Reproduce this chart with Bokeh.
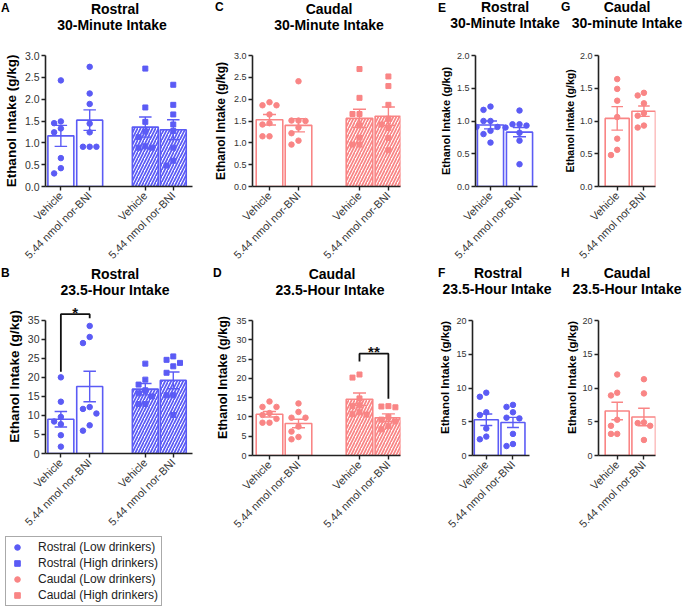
import math
from bokeh.plotting import figure
from bokeh.layouts import row, column
from bokeh.models import (FixedTicker, PrintfTickFormatter, CustomJSTickFormatter,
                          Range1d, Legend, LegendItem, Div)
from bokeh.core.properties import value
from bokeh.embed import file_html
from bokeh.resources import INLINE

BLUE = "#5b5bf5"
PINK = "#f98585"
FONT = "Liberation Sans"

# ---------------- data ----------------
X_LABELS = ["Vehicle", "5.44 nmol nor-BNI"]
LEGEND_LABELS = ["Rostral (Low drinkers)", "Rostral (High drinkers)",
                 "Caudal (Low drinkers)", "Caudal (High drinkers)"]

# A: Rostral 30-minute (low veh, low nor, high veh, high nor)
A_points = [[2.43, 1.49, 1.45, 1.33, 1.24, 0.65, 0.42, 0.30],
            [2.74, 2.13, 1.89, 1.44, 1.24, 0.91, 0.91, 0.91],
            [2.70, 1.81, 1.48, 1.26, 1.13, 0.92, 0.89, 0.89],
            [2.33, 1.87, 1.65, 1.42, 1.27, 0.89, 0.59, 0.48]]
A_mean = [1.16, 1.52, 1.36, 1.30]
A_sem = [0.24, 0.235, 0.23, 0.23]

# B: Rostral 23.5-hour
B_points = [[20.0, 13.6, 9.6, 8.4, 7.7, 4.8, 1.8],
            [33.5, 30.6, 29.0, 12.2, 11.7, 10.5, 7.4, 6.0],
            [23.6, 19.4, 18.1, 16.6, 15.8, 15.0, 13.0, 13.0],
            [25.5, 24.6, 23.8, 22.9, 21.2, 15.3, 15.3, 10.1]]
B_mean = [9.0, 17.6, 16.9, 19.2]
B_sem = [2.05, 4.0, 1.5, 2.2]

# C: Caudal 30-minute
C_points = [[1.93, 1.86, 1.86, 1.65, 1.45, 1.42, 1.15, 1.15],
            [2.41, 1.51, 1.51, 1.50, 1.35, 1.22, 1.05, 0.96],
            [2.69, 2.03, 1.66, 1.66, 1.40, 1.12, 0.96, 0.96],
            [2.52, 2.30, 1.87, 1.55, 1.42, 1.34, 1.11, 0.83]]
C_mean = [1.53, 1.40, 1.56, 1.61]
C_sem = [0.12, 0.15, 0.21, 0.21]

# D: Caudal 23.5-hour
D_points = [[14.0, 12.6, 12.6, 11.0, 10.5, 9.5, 8.5, 8.5],
            [13.5, 11.3, 9.8, 9.8, 7.5, 6.2, 4.8, 4.2],
            [21.0, 20.2, 14.8, 13.0, 12.8, 11.2, 10.7, 10.6],
            [12.8, 12.5, 12.7, 10.0, 9.3, 8.8, 7.6, 6.8]]
D_mean = [10.7, 8.3, 14.6, 9.8]
D_sem = [0.7, 1.1, 1.6, 1.0]

# E: Rostral 30-minute
E_points = [[1.22, 1.17, 1.00, 1.00, 0.91, 0.91, 0.85, 0.80, 0.67],
            [1.16, 0.95, 0.95, 0.93, 0.90, 0.82, 0.70, 0.34]]
E_mean = [0.94, 0.83]
E_sem = [0.06, 0.07]

# F: Rostral 23.5-hour
F_points = [[9.3, 8.7, 6.4, 6.0, 4.0, 2.8, 2.4],
            [7.5, 7.2, 6.4, 5.6, 5.5, 3.2, 1.7, 1.4]]
F_mean = [5.3, 4.9]
F_sem = [0.85, 0.75]

# G: Caudal 30-minute
G_points = [[1.64, 1.49, 1.31, 1.06, 0.73, 0.56, 0.48],
            [1.43, 1.39, 1.27, 1.12, 1.08, 0.93, 0.90]]
G_mean = [1.04, 1.15]
G_sem = [0.18, 0.08]

# H: Caudal 23.5-hour
H_points = [[12.0, 9.3, 8.9, 5.3, 4.4, 3.2, 3.2],
            [11.3, 9.2, 4.9, 4.8, 4.4, 2.3]]
H_mean = [6.6, 5.7]
H_sem = [1.3, 1.3]

# significance brackets: (bar i, bar j, left-leg bottom, top, right-leg bottom, label)
B_sig = (0, 1, 21.5, 36.6, 35.5, "*")
D_sig = (2, 3, 24.4, 26.4, 14.7, "**")


def swarm(vals, center, ypx, xpx, d=7.0):
    out = [0.0] * len(vals)
    placed = []
    order = sorted(range(len(vals)), key=lambda i: -vals[i])
    for i in order:
        v = vals[i]
        ox = 0.0
        for k in [0, -1, 1, -2, 2, -3, 3]:
            ox = k * d
            if all((ox - px) ** 2 + ((v - pv) * ypx) ** 2 >= (d * 0.95) ** 2 for px, pv in placed):
                break
        placed.append((ox, v))
        out[i] = center + ox / xpx
    return out


def strip(w, h, texts):
    parts = ['<div style="position:relative;width:%dpx;height:%dpx;">' % (w, h)]
    for (txt, x, y, size, align) in texts:
        tx = "-50%" if align == "center" else "0"
        parts.append(
            '<span style="position:absolute;left:%spx;top:%spx;transform:translate(%s,-50%%);'
            "font-family:'Liberation Sans',Arial,sans-serif;font-weight:bold;font-size:%s;"
            'color:#000;white-space:nowrap;line-height:1;">%s</span>' % (x, y, tx, size, txt))
    parts.append("</div>")
    return Div(text="".join(parts), width=w, height=h, margin=0)


def panel(s):
    w, h = s["w"], s["h"]
    left, right, top, bottom = s["left"], s["right"], s["top"], s["bottom"]
    fh = h - top - bottom
    p = figure(width=w, height=h, x_range=Range1d(*s["xr"]), y_range=Range1d(0, s["yend"]),
               toolbar_location=None, output_backend="svg",
               min_border_left=left, min_border_right=right,
               min_border_top=top, min_border_bottom=bottom)
    p.outline_line_color = None
    p.xgrid.visible = False
    p.ygrid.visible = False
    p.background_fill_color = "white"
    p.border_fill_color = "white"

    color = s["color"]
    centers = s["centers"]
    n = len(centers)
    hatched = [i >= 2 for i in range(n)]
    ypx = fh / s["yend"]
    xpx = s["unit"]

    plain_i = [i for i in range(n) if not hatched[i]]
    hat_i = [i for i in range(n) if hatched[i]]
    means, sems = s["mean"], s["sem"]
    p.vbar(x=[centers[i] for i in plain_i], top=[means[i] for i in plain_i], width=0.9,
           fill_color="white", line_color=color, line_width=1.6)
    if hat_i:
        p.vbar(x=[centers[i] for i in hat_i], top=[means[i] for i in hat_i], width=0.9,
               fill_color="white", line_color=color, line_width=1.6,
               hatch_pattern="/", hatch_color=color, hatch_weight=1.7, hatch_scale=6)
    lo = [m - e for m, e in zip(means, sems)]
    hi = [m + e for m, e in zip(means, sems)]
    cw = 6.5 / xpx
    p.segment(x0=centers, y0=lo, x1=centers, y1=hi, line_color=color, line_width=1.4)
    p.segment(x0=[c - cw for c in centers], y0=hi, x1=[c + cw for c in centers], y1=hi,
              line_color=color, line_width=1.4)
    p.segment(x0=[c - cw for c in centers], y0=lo, x1=[c + cw for c in centers], y1=lo,
              line_color=color, line_width=1.4)

    for i in range(n):
        vals = s["points"][i]
        xs = swarm(vals, centers[i], ypx, xpx)
        p.scatter(x=xs, y=vals, marker="square" if hatched[i] else "circle",
                  size=5.5 if not hatched[i] else 5, color=color)

    if s.get("sig"):
        i, j, yl, yt, yr, lab = s["sig"]
        p.line(x=[centers[i], centers[i], centers[j], centers[j]], y=[yl, yt, yt, yr],
               line_color="#111111", line_width=1.8)
        p.text(x=[(centers[i] + centers[j]) / 2], y=[yt + 2.0 / ypx],
               text=[lab], text_font=value(FONT), text_font_size="15px",
               text_font_style="bold", text_align="center", text_baseline="alphabetic",
               text_color="#111111")

    ya = p.yaxis[0]
    ya.ticker = FixedTicker(ticks=s["yticks"])
    ya.formatter = PrintfTickFormatter(format=s["yfmt"])
    ya.bounds = (0, s["ymax"])
    ya.minor_tick_line_color = None
    ya.major_tick_out = 4
    ya.major_tick_in = 0
    ya.axis_line_width = 1.6
    ya.axis_line_color = "#222222"
    ya.major_tick_line_color = "#222222"
    ya.major_tick_line_width = 1.4
    ya.major_label_text_font = FONT
    ya.major_label_text_font_size = s["ytick_size"]
    ya.major_label_text_color = "#333333"
    ya.major_label_standoff = 2
    ya.axis_label = s["ylabel"]
    ya.axis_label_text_font = FONT
    ya.axis_label_text_font_style = "bold"
    ya.axis_label_text_font_size = s["ylabel_size"]
    ya.axis_label_text_color = "#000000"
    ya.axis_label_standoff = s.get("lab_standoff", 3)

    xa = p.xaxis[0]
    xa.ticker = FixedTicker(ticks=centers)
    xa.formatter = CustomJSTickFormatter(args=dict(labels=(X_LABELS * 2)[:n]),
                                         code="return labels[index]")
    xa.major_label_orientation = math.pi / 4
    xa.minor_tick_line_color = None
    xa.major_tick_out = 4
    xa.major_tick_in = 0
    xa.axis_line_width = 1.6
    xa.axis_line_color = "#222222"
    xa.major_tick_line_color = "#222222"
    xa.major_tick_line_width = 1.4
    xa.major_label_text_font = FONT
    xa.major_label_text_font_size = "11px"
    xa.major_label_text_color = "#333333"
    xa.major_label_standoff = 3
    return p


LONG = "Ethanol Intake (g/kg)"
T = "14px"
L = "12px"
Y30 = [0, 0.5, 1.0, 1.5, 2.0, 2.5, 3.0]
Y20 = [0, 0.5, 1.0, 1.5, 2.0]
Y35 = [0, 5, 10, 15, 20, 25, 30, 35]
Y20H = [0, 5, 10, 15, 20]

R1 = dict(h=236, top=23, bottom=78)          # frame 135 px
YEND35 = 35 * 156 / 135.0                     # row-2 frame 156 px
YEND20 = 20 * 156 / 135.0

specA = dict(w=205, left=39, right=13, xr=(0.467, 5.567), centers=[1, 2, 3.93, 4.9], unit=30,
             yend=3, ymax=3, yticks=Y30, yfmt="%.1f", ytick_size="10.5px",
             ylabel=LONG, ylabel_size="13.5px", color=BLUE,
             points=A_points, mean=A_mean, sem=A_sem, **R1)
specB = dict(w=205, h=237, top=1, bottom=80, left=39, right=13, xr=(0.467, 5.567),
             centers=[1, 2, 3.93, 4.9], unit=30, yend=YEND35, ymax=35,
             yticks=Y35, yfmt="%d", ytick_size="10.5px",
             ylabel=LONG, ylabel_size="13.5px", color=BLUE,
             points=B_points, mean=B_mean, sem=B_sem, sig=B_sig)
specC = dict(w=231, left=47, right=36, xr=(0.424, 5.44), centers=[1, 1.983, 4.05, 5.03],
             unit=29.5, yend=3, ymax=3, yticks=Y30, yfmt="%.1f", ytick_size="9px",
             ylabel=LONG, ylabel_size="12px", color=PINK,
             points=C_points, mean=C_mean, sem=C_sem, **R1)
specD = dict(w=231, h=311, top=1, bottom=154, left=47, right=36, xr=(0.424, 5.44),
             centers=[1, 1.983, 4.05, 5.03], unit=29.5, yend=YEND35, ymax=35,
             yticks=Y35, yfmt="%d", ytick_size="9px",
             ylabel=LONG, ylabel_size="12.5px", color=PINK,
             points=D_points, mean=D_mean, sem=D_sem, sig=D_sig)
specE = dict(w=124, left=39, right=23, xr=(0.483, 2.62), centers=[1, 2], unit=29,
             yend=2, ymax=2, yticks=Y20, yfmt="%.1f", ytick_size="9px",
             ylabel=LONG, ylabel_size="11px", color=BLUE, lab_standoff=2,
             points=E_points, mean=E_mean, sem=E_sem, **R1)
specF = dict(w=124, h=311, top=1, bottom=154, left=31, right=31, xr=(0.483, 2.62),
             centers=[1, 2], unit=29, yend=YEND20, ymax=20,
             yticks=Y20H, yfmt="%d", ytick_size="9px",
             ylabel=LONG, ylabel_size="11.5px", color=BLUE, lab_standoff=2,
             points=F_points, mean=F_mean, sem=F_sem)
specG = dict(w=125, left=31, right=30, xr=(0.3, 2.433), centers=[1, 2], unit=30,
             yend=2, ymax=2, yticks=Y20, yfmt="%.1f", ytick_size="9px",
             ylabel=LONG, ylabel_size="10.5px", color=PINK, lab_standoff=1,
             points=G_points, mean=G_mean, sem=G_sem, **R1)
specH = dict(w=125, h=311, top=1, bottom=154, left=31, right=30, xr=(0.3, 2.433),
             centers=[1, 2], unit=30, yend=YEND20, ymax=20,
             yticks=Y20H, yfmt="%d", ytick_size="9px",
             ylabel=LONG, ylabel_size="11.5px", color=PINK, lab_standoff=1,
             points=H_points, mean=H_mean, sem=H_sem)

sA = strip(205, 32, [("A", 1, 8, L, "left"), ("Rostral", 115, 9, T, "center"),
                     ("30-Minute Intake", 112, 25, T, "center")])
sB = strip(205, 30, [("B", 1, 5, L, "left"), ("Rostral", 115, 6, T, "center"),
                     ("23.5-Hour Intake", 115, 22, T, "center")])
sC = strip(231, 32, [("C", 10, 7, L, "left"), ("Caudal", 124, 9, T, "center"),
                     ("30-Minute Intake", 124, 25, T, "center")])
sD = strip(231, 30, [("D", 8, 5, L, "left"), ("Caudal", 127, 6, T, "center"),
                     ("23.5-Hour Intake", 125, 22, T, "center")])
sE = strip(124, 32, [("E", 2, 8, L, "left"), ("Rostral", 69, 7, T, "center"),
                     ("30-Minute Intake", 69, 23, T, "center")])
sF = strip(124, 30, [("F", 2, 5, L, "left"), ("Rostral", 62, 5, T, "center"),
                     ("23.5-Hour Intake", 61, 21, T, "center")])
sG = strip(125, 32, [("G", 1, 7, L, "left"), ("Caudal", 67, 7, T, "center"),
                     ("30-minute Intake", 67, 23, T, "center")])
sH = strip(125, 30, [("H", 1, 5, L, "left"), ("Caudal", 67, 5, T, "center"),
                     ("23.5-Hour Intake", 67, 21, T, "center")])

pA, pB, pC, pD = panel(specA), panel(specB), panel(specC), panel(specD)
pE, pF, pG, pH = panel(specE), panel(specF), panel(specG), panel(specH)

# legend panel
pl = figure(width=205, height=74, x_range=Range1d(0, 1), y_range=Range1d(0, 1),
            toolbar_location=None, output_backend="svg",
            x_axis_location=None, y_axis_location=None, min_border=0)
pl.xgrid.visible = False
pl.ygrid.visible = False
pl.outline_line_color = None
markers = ["circle", "square", "circle", "square"]
colors = [BLUE, BLUE, PINK, PINK]
items = []
for lab, mk, col in zip(LEGEND_LABELS, markers, colors):
    r = pl.scatter(x=[-5], y=[-5], marker=mk, size=7, color=col)
    items.append(LegendItem(label=lab, renderers=[r]))
leg = Legend(items=items, location=(5, 3), margin=0, padding=3, spacing=2,
             glyph_width=16, glyph_height=14, label_height=14, label_standoff=13,
             label_text_font=FONT, label_text_font_size="12px", label_text_color="#222222",
             border_line_color="#555555", border_line_width=1, background_fill_color="white",
             background_fill_alpha=1.0)
pl.add_layout(leg)

layout = row(column(sA, pA, sB, pB, column(pl)), column(sC, pC, sD, pD),
             column(sE, column(pE), sF, column(pF)), column(sG, pG, sH, pH))

open("out.html", "w").write(file_html(layout, INLINE))
